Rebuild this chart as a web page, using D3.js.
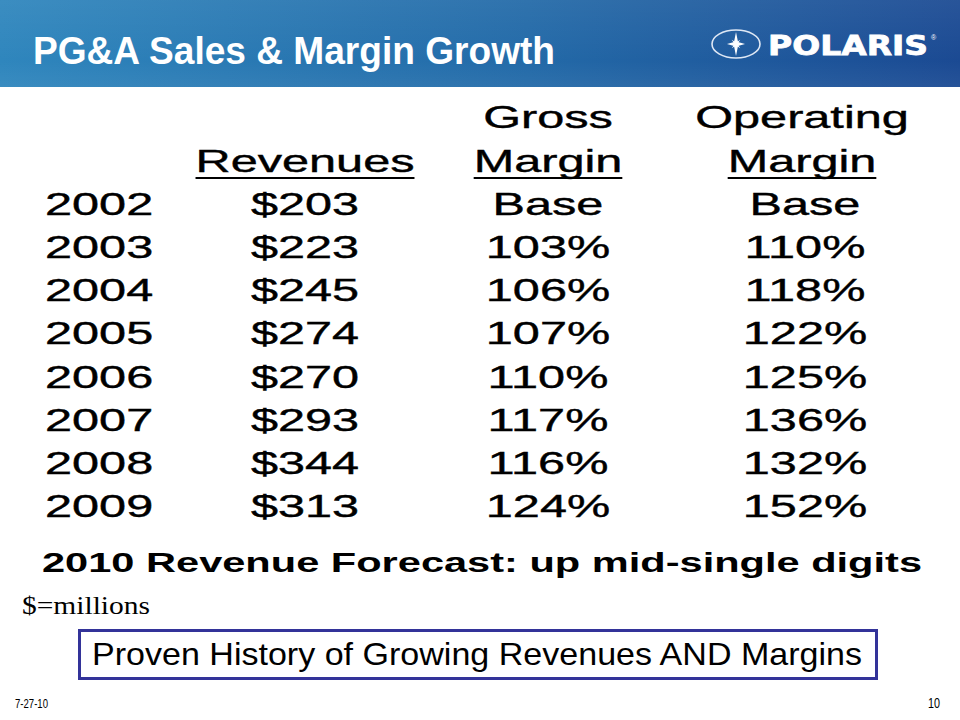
<!DOCTYPE html>
<html>
<head>
<meta charset="utf-8">
<script src="https://cdn.jsdelivr.net/npm/d3@7"></script>
<style>
  html, body { margin: 0; padding: 0; background: #fff; }
  svg { display: block; }
</style>
</head>
<body>
<svg id="chart" width="960" height="720"></svg>
<script>
// ---- data ----
const years = ["2002", "2003", "2004", "2005", "2006", "2007", "2008", "2009"];
const revenues = [203, 223, 245, 274, 270, 293, 344, 313];
const grossMargin = ["Base", "103%", "106%", "107%", "110%", "117%", "116%", "124%"];
const operatingMargin = ["Base", "110%", "118%", "122%", "125%", "136%", "132%", "152%"];
const columns = ["Revenues", "Gross Margin", "Operating Margin"];
const headerLine1 = ["", "Gross", "Operating"];
const headerLine2 = ["Revenues", "Margin", "Margin"];
const title = "PG&A Sales & Margin Growth";
const forecast = "2010 Revenue Forecast: up mid-single digits";
const unitNote = "$=millions";
const tagline = "Proven History of Growing Revenues AND Margins";
const dateLabel = "7-27-10";
const pageNum = "10";

const svg = d3.select("#chart");
const W = 960, H = 720;

// ---- banner ----
const defs = svg.append("defs");
const g1 = defs.append("linearGradient").attr("id", "ban").attr("x1", "0").attr("x2", "1").attr("y1", "0").attr("y2", "0");
g1.append("stop").attr("offset", "0%").attr("stop-color", "#2f86bd");
g1.append("stop").attr("offset", "55%").attr("stop-color", "#236aa8");
g1.append("stop").attr("offset", "100%").attr("stop-color", "#1b4a93");
const g2 = defs.append("linearGradient").attr("id", "banv").attr("x1", "0").attr("x2", "0").attr("y1", "0").attr("y2", "1");
g2.append("stop").attr("offset", "0%").attr("stop-color", "#ffffff").attr("stop-opacity", 0.06);
g2.append("stop").attr("offset", "70%").attr("stop-color", "#ffffff").attr("stop-opacity", 0);
g2.append("stop").attr("offset", "100%").attr("stop-color", "#ffffff").attr("stop-opacity", 0.05);

svg.append("rect").attr("x", 0).attr("y", 0).attr("width", W).attr("height", 87).attr("fill", "url(#ban)");
svg.append("rect").attr("x", 0).attr("y", 0).attr("width", W).attr("height", 87).attr("fill", "url(#banv)");

svg.append("text")
  .attr("x", 33).attr("y", 64)
  .attr("font-family", "Liberation Sans, Arial, sans-serif")
  .attr("font-weight", "bold").attr("font-size", 39)
  .attr("fill", "#fff")
  .attr("textLength", 522).attr("lengthAdjust", "spacingAndGlyphs")
  .text(title);

// logo
const logo = svg.append("g").attr("transform", "translate(736,44)");
logo.append("ellipse").attr("rx", 24).attr("ry", 14).attr("fill", "none").attr("stroke", "#dfe8f5").attr("stroke-width", 1.6);
const star = "M0,-12 L2,-2 L9,0 L2,2 L0,12 L-2,2 L-9,0 L-2,-2 Z";
logo.append("path").attr("d", star).attr("fill", "#fff");
logo.append("path").attr("d", "M0,-6 L1,-1 L6,0 L1,1 L0,6 L-1,1 L-6,0 L-1,-1 Z").attr("fill", "#fff").attr("transform", "rotate(45)");
svg.append("text")
  .attr("x", 768).attr("y", 55)
  .attr("font-family", "DejaVu Sans, sans-serif").attr("font-weight", "bold").attr("font-size", 27)
  .attr("fill", "#fff")
  .attr("stroke", "#fff").attr("stroke-width", 0.8)
  .attr("textLength", 160).attr("lengthAdjust", "spacingAndGlyphs")
  .text("POLARIS");
svg.append("text")
  .attr("x", 931).attr("y", 40)
  .attr("font-family", "Liberation Sans, sans-serif").attr("font-size", 7)
  .attr("fill", "#fff").text("®");

// ---- table ----
const rowY = d3.scalePoint().domain(years).range([215, 517]);
const colX = d3.scaleOrdinal().domain(columns).range([305, 548, 802]);
const SX = 1.52;
const fontT = "Liberation Sans, Arial, sans-serif";

function wideText(sel, x, y, txt, anchor) {
  return sel.append("text")
    .attr("transform", `translate(${x},${y}) scale(${SX},1)`)
    .attr("text-anchor", anchor)
    .attr("font-family", fontT)
    .attr("font-size", 32)
    .attr("fill", "#000")
    .attr("stroke", "#000").attr("stroke-width", 0.4)
    .text(txt);
}

const table = svg.append("g");
// headers
columns.forEach((c, i) => {
  const x = colX(c);
  if (headerLine1[i]) wideText(table, x, 128, headerLine1[i], "middle");
  const t = wideText(table, x, 172, headerLine2[i], "middle");
  const bb = t.node().getBBox();
  const w = bb.width * SX;
  table.append("line")
    .attr("x1", x - w / 2).attr("x2", x + w / 2)
    .attr("y1", 178).attr("y2", 178)
    .attr("stroke", "#000").attr("stroke-width", 2);
});

years.forEach((yr, i) => {
  const y = rowY(yr);
  wideText(table, 45, y, yr, "start");
  wideText(table, colX(columns[0]), y, "$" + revenues[i], "middle");
  wideText(table, colX(columns[1]), y, grossMargin[i], "middle");
  wideText(table, colX(columns[2]) + 3, y, operatingMargin[i], "middle");
});

// ---- forecast ----
svg.append("text")
  .attr("x", 42).attr("y", 572)
  .attr("font-family", fontT).attr("font-weight", "bold").attr("font-size", 27)
  .attr("fill", "#000")
  .attr("textLength", 880).attr("lengthAdjust", "spacingAndGlyphs")
  .text(forecast);

svg.append("text")
  .attr("x", 22).attr("y", 614)
  .attr("font-family", "Liberation Serif, Times New Roman, serif").attr("font-size", 25)
  .attr("fill", "#000")
  .attr("textLength", 128).attr("lengthAdjust", "spacingAndGlyphs")
  .text(unitNote);

// ---- tagline box ----
svg.append("rect")
  .attr("x", 79.5).attr("y", 630.5).attr("width", 797).attr("height", 48)
  .attr("fill", "#fff").attr("stroke", "#333399").attr("stroke-width", 3);
svg.append("text")
  .attr("x", 92).attr("y", 665)
  .attr("font-family", fontT).attr("font-size", 32)
  .attr("fill", "#000")
  .attr("textLength", 770).attr("lengthAdjust", "spacingAndGlyphs")
  .text(tagline);

// ---- footer ----
svg.append("text")
  .attr("x", 15).attr("y", 708)
  .attr("font-family", fontT).attr("font-size", 13)
  .attr("fill", "#000")
  .attr("textLength", 33).attr("lengthAdjust", "spacingAndGlyphs")
  .text(dateLabel);
svg.append("text")
  .attr("x", 940).attr("y", 708)
  .attr("text-anchor", "end")
  .attr("font-family", fontT).attr("font-size", 14)
  .attr("fill", "#000")
  .attr("textLength", 12).attr("lengthAdjust", "spacingAndGlyphs")
  .text(pageNum);
</script>
</body>
</html>
